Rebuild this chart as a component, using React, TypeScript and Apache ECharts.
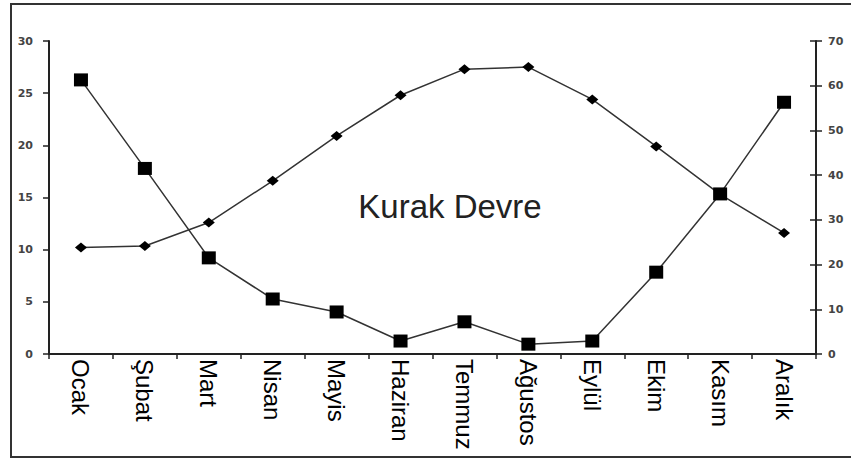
import React, { useEffect, useRef } from "react";
import * as echarts from "echarts";

const months = ["Ocak", "Şubat", "Mart", "Nisan", "Mayis", "Haziran", "Temmuz", "Ağustos", "Eylül", "Ekim", "Kasım", "Aralık"];
const temperature = [10.2, 10.35, 12.6, 16.6, 20.9, 24.8, 27.3, 27.5, 24.4, 19.9, 15.3, 11.6];
const precipitation = [61.3, 41.5, 21.5, 12.3, 9.4, 2.9, 7.2, 2.2, 2.9, 18.3, 35.8, 56.3];
const annotation = "Kurak Devre";

export default function App() {
  const ref = useRef<HTMLDivElement>(null);
  useEffect(() => {
    if (!ref.current) return;
    const chart = echarts.init(ref.current, null, { renderer: "svg" });
    const axisColor = "#222";
    const yLabel = {
      color: "#444",
      fontSize: 11,
      fontWeight: "bold" as const,
      fontFamily: "DejaVu Sans",
    };
    chart.setOption({
      animation: false,
      backgroundColor: "#fff",
      grid: { left: 49, right: 35, top: 41, bottom: 106, containLabel: false },
      xAxis: {
        type: "category",
        data: months,
        boundaryGap: true,
        axisLine: { show: true, lineStyle: { color: axisColor, width: 2 } },
        axisTick: { show: true, inside: false, length: 5, alignWithLabel: false, lineStyle: { color: axisColor, width: 1.5 } },
        axisLabel: {
          rotate: -90,
          margin: 5,
          color: "#000",
          fontSize: 24,
          fontFamily: "Liberation Sans, Arial",
          interval: 0,
        },
        splitLine: { show: false },
      },
      yAxis: [
        {
          type: "value",
          min: 0,
          max: 30,
          interval: 5,
          position: "left",
          axisLine: { show: true, lineStyle: { color: axisColor, width: 2 } },
          axisTick: { show: true, inside: false, length: 6, lineStyle: { color: axisColor, width: 1.5 } },
          axisLabel: { ...yLabel, margin: 16 },
          splitLine: { show: false },
        },
        {
          type: "value",
          min: 0,
          max: 70,
          interval: 10,
          position: "right",
          axisLine: { show: true, onZero: false, lineStyle: { color: axisColor, width: 2 } },
          axisTick: { show: true, inside: false, length: 6, lineStyle: { color: axisColor, width: 1.5 } },
          axisLabel: { ...yLabel, margin: 12 },
          splitLine: { show: false },
        },
        {
          type: "value",
          min: 0,
          max: 70,
          interval: 10,
          position: "right",
          axisLine: { show: false },
          axisTick: { show: true, inside: true, length: 6, lineStyle: { color: axisColor, width: 1.5 } },
          axisLabel: { show: false },
          splitLine: { show: false },
        },
      ],
      series: [
        {
          name: "Sıcaklık",
          type: "line",
          yAxisIndex: 0,
          data: temperature,
          symbol: "diamond",
          symbolSize: [12, 10],
          lineStyle: { color: "#333", width: 1.5 },
          itemStyle: { color: "#000" },
        },
        {
          name: "Yağış",
          type: "line",
          yAxisIndex: 1,
          data: precipitation,
          symbol: "rect",
          symbolSize: [14, 13],
          lineStyle: { color: "#333", width: 1.5 },
          itemStyle: { color: "#000" },
        },
      ],
      graphic: [
        {
          type: "rect",
          shape: { x: 11, y: 4, width: 900, height: 453 },
          style: { fill: "none", stroke: "#333", lineWidth: 2 },
          silent: true,
          z: -1,
        },
        {
          type: "text",
          x: 450,
          y: 206,
          style: {
            text: annotation,
            font: "33px 'Liberation Sans', Arial, sans-serif",
            fill: "#222",
            textAlign: "center",
            textVerticalAlign: "middle",
          },
        },
      ],
    });
    return () => chart.dispose();
  }, []);
  return <div ref={ref} style={{ position: "fixed", left: 0, top: 0, width: 851, height: 460 }} />;
}
